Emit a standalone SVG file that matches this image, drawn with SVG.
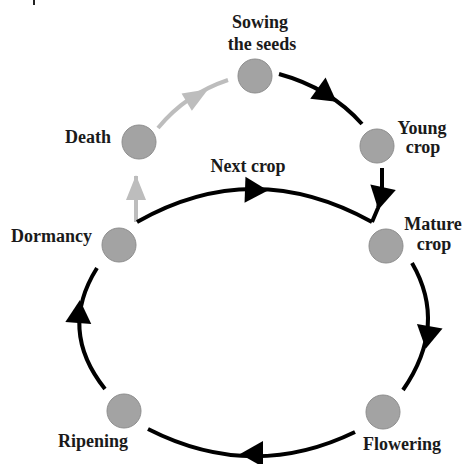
<svg xmlns="http://www.w3.org/2000/svg" xmlns:xlink="http://www.w3.org/1999/xlink" width="463" height="464" viewBox="0 0 463 464">
  <style>
    .node { fill: #a3a3a3; stroke: #8e8e8e; stroke-width: 1; }
    .lbl { font-family: "Liberation Serif", "Times New Roman", serif; font-weight: bold; font-size: 18px; fill: #1a1a1a; }
    .mid { text-anchor: middle; }
    .end { text-anchor: end; }
    .blk { fill: none; stroke: #000; stroke-width: 4; stroke-linecap: butt; stroke-linejoin: miter; }
    .gry { fill: none; stroke: #bdbdbd; stroke-width: 4; }
    .hb { fill: #000; }
    .hg { fill: #bdbdbd; }
  </style>
  <defs>
    <path id="ahb" d="M-10,-13 L13,0 L-10,13 Z"/>
    <path id="ahg" d="M-12,-10 L13,0 L-12,10 Z"/>
  </defs>
  <rect width="463" height="464" fill="#fff"/>
  <rect x="33" y="0" width="2" height="5" fill="#222"/>

  <g id="connectors">
    <path class="gry" d="M158,128 Q186,94 228,80"/>
    <use href="#ahg" class="hg" transform="translate(197,96) rotate(-31)"/>
    <path class="gry" d="M136,222 L136,176"/>
    <use href="#ahg" class="hg" transform="translate(136,188) rotate(-90)"/>

    <path class="blk" d="M279,74 Q330,88 362,124"/>
    <use href="#ahb" class="hb" transform="translate(326,94) rotate(36)"/>

    <path class="blk" d="M382,168 L382,190 L378,208 L372,222"/>
    <use href="#ahb" class="hb" transform="translate(381,197) rotate(102)"/>

    <path class="blk" d="M137,222 Q253,156 372,222"/>
    <use href="#ahb" class="hb" transform="translate(255,190) rotate(2)"/>

    <path class="blk" d="M412,263 Q448,325 403,390"/>
    <use href="#ahb" class="hb" transform="translate(428,336) rotate(100)"/>

    <path class="blk" d="M355,432 Q252,482 148,429"/>
    <use href="#ahb" class="hb" transform="translate(253,454) rotate(180)"/>

    <path class="blk" d="M105,389 Q58,330 97,268"/>
    <use href="#ahb" class="hb" transform="translate(79,313) rotate(-86)"/>
  </g>

  <g id="sowing">
    <circle class="node" cx="255" cy="76" r="17"/>
    <text class="lbl mid" x="260" y="28">Sowing</text>
    <text class="lbl mid" x="262" y="50">the seeds</text>
  </g>
  <g id="young">
    <circle class="node" cx="377" cy="146" r="17"/>
    <text class="lbl mid" x="422" y="134">Young</text>
    <text class="lbl mid" x="423" y="153">crop</text>
  </g>
  <g id="death">
    <circle class="node" cx="139" cy="142" r="17"/>
    <text class="lbl end" x="111" y="143">Death</text>
  </g>
  <g id="nextcrop">
    <text class="lbl mid" x="248" y="172">Next crop</text>
  </g>
  <g id="mature">
    <circle class="node" cx="386" cy="246" r="17"/>
    <text class="lbl mid" x="433" y="230">Mature</text>
    <text class="lbl mid" x="434" y="250">crop</text>
  </g>
  <g id="dormancy">
    <circle class="node" cx="119" cy="245" r="17"/>
    <text class="lbl end" x="92" y="242">Dormancy</text>
  </g>
  <g id="flowering">
    <circle class="node" cx="383" cy="412" r="17"/>
    <text class="lbl mid" x="402" y="450">Flowering</text>
  </g>
  <g id="ripening">
    <circle class="node" cx="124" cy="411" r="17"/>
    <text class="lbl mid" x="93" y="447">Ripening</text>
  </g>
</svg>
